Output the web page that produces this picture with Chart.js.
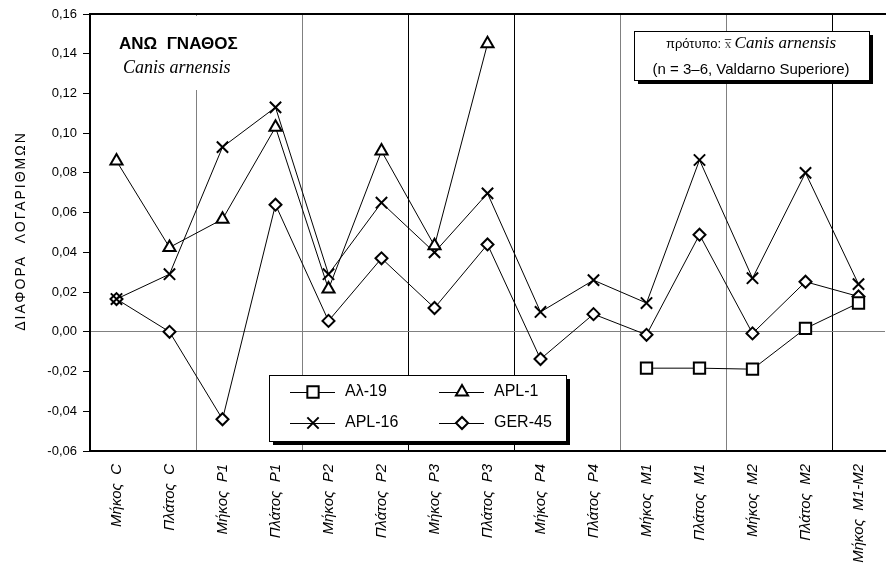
<!DOCTYPE html>
<html>
<head>
<meta charset="utf-8">
<script src="https://cdn.jsdelivr.net/npm/chart.js@4"></script>
<style>
  html, body { margin: 0; padding: 0; background: #fff; }
  #wrap { width: 886px; height: 564px; }
</style>
</head>
<body>
<div id="wrap"><canvas id="chart" width="886" height="564"></canvas></div>
<script>
// Categories (upper jaw measurements)
const categories = ['Μήκος  C', 'Πλάτος  C', 'Μήκος  P1', 'Πλάτος  P1', 'Μήκος  P2', 'Πλάτος  P2',
    'Μήκος  P3', 'Πλάτος  P3', 'Μήκος  P4', 'Πλάτος  P4', 'Μήκος  M1', 'Πλάτος  M1',
    'Μήκος  M2', 'Πλάτος  M2', 'Μήκος  M1-M2'];

// Log-difference values
const al19  = [null, null, null, null, null, null, null, null, null, null, -0.0183, -0.0183, -0.0188, 0.0017, 0.0145];
const apl1  = [0.086, 0.0425, 0.0567, 0.103, 0.0215, 0.091, 0.0433, 0.145, null, null, null, null, null, null, null];
const apl16 = [0.0165, 0.029, 0.093, 0.113, 0.029, 0.065, 0.040, 0.0697, 0.010, 0.026, 0.0145, 0.0865, 0.027, 0.080, 0.024];
const ger45 = [0.0165, 0.000, -0.044, 0.064, 0.0055, 0.037, 0.012, 0.044, -0.0137, 0.0089, -0.0015, 0.0489, -0.0008, 0.0252, 0.0178];

const seriesNames = ['Αλ-19', 'APL-1', 'APL-16', 'GER-45'];
const yMin = -0.06, yMax = 0.16, yStep = 0.02;
const yTitle = 'ΔΙΑΦΟΡΑ  ΛΟΓΑΡΙΘΜΩΝ';

const FONT = "'Liberation Sans', Arial, sans-serif";
const SERIF = "'Liberation Serif', 'Times New Roman', serif";

const makeSet = (label, data, style, radius) => ({
    label: label,
    data: data,
    borderColor: '#000',
    borderWidth: 1,
    pointStyle: style,
    pointRadius: radius,
    pointBorderWidth: 2,
    pointBorderColor: '#000',
    pointBackgroundColor: '#fff',
    tension: 0,
    spanGaps: false
});

const datasets = [
    makeSet(seriesNames[0], al19, 'rect', 8),
    makeSet(seriesNames[1], apl1, 'triangle', 7),
    makeSet(seriesNames[2], apl16, 'crossRot', 8),
    makeSet(seriesNames[3], ger45, 'rectRot', 6)
];

// draw a marker in the legend the same way the chart does
const drawMarker = (ctx, ds, x, y) => {
    ctx.save();
    ctx.strokeStyle = '#000';
    ctx.fillStyle = '#fff';
    ctx.lineWidth = 2;
    Chart.helpers.drawPoint(ctx, { pointStyle: ds.pointStyle, radius: ds.pointRadius, rotation: 0, borderWidth: 2 }, x, y);
    ctx.restore();
};

const shadowBox = (ctx, x, y, w, h, off) => {
    ctx.fillStyle = '#000';
    ctx.fillRect(x + off, y + off, w, h);
    ctx.fillStyle = '#fff';
    ctx.fillRect(x, y, w, h);
    ctx.strokeStyle = '#000';
    ctx.lineWidth = 1;
    ctx.strokeRect(x + 0.5, y + 0.5, w, h);
};

const decorations = {
    id: 'decorations',
    afterDraw(chart) {
        const ctx = chart.ctx;
        const area = chart.chartArea;
        ctx.save();

        // top frame line
        ctx.strokeStyle = '#000';
        ctx.lineWidth = 2;
        ctx.beginPath();
        ctx.moveTo(area.left, area.top);
        ctx.lineTo(area.right + 1, area.top);
        ctx.stroke();

        // y axis title, spaced out
        ctx.save();
        ctx.translate(21, 231);
        ctx.rotate(-Math.PI / 2);
        ctx.fillStyle = '#000';
        ctx.font = '14px ' + FONT;
        ctx.letterSpacing = '2px';
        ctx.textAlign = 'center';
        ctx.textBaseline = 'middle';
        ctx.fillText(yTitle, 0, 0);
        ctx.restore();

        // title block (white, no border)
        ctx.fillStyle = '#fff';
        ctx.fillRect(96, 16, 164, 74);
        ctx.fillStyle = '#000';
        ctx.textBaseline = 'middle';
        ctx.textAlign = 'left';
        ctx.font = 'bold 17px ' + FONT;
        ctx.fillText('ΑΝΩ  ΓΝΑΘΟΣ', 119, 44);
        ctx.font = 'italic 18px ' + SERIF;
        ctx.fillText('Canis arnensis', 123, 68);

        // reference box, top right
        shadowBox(ctx, 634, 31, 235, 49, 4);
        ctx.fillStyle = '#000';
        const p1 = 'πρότυπο: ';
        ctx.font = '13px ' + FONT;
        const w1 = ctx.measureText(p1).width;
        ctx.font = '13px ' + SERIF;
        const w2 = ctx.measureText('x ').width;
        ctx.font = 'italic 17px ' + SERIF;
        const w3 = ctx.measureText('Canis arnensis').width;
        let sx = 751 - (w1 + w2 + w3) / 2;
        ctx.font = '13px ' + FONT;
        ctx.fillText(p1, sx, 44);
        sx += w1;
        ctx.font = '13px ' + SERIF;
        ctx.fillStyle = '#444';
        ctx.fillText('x', sx, 45);
        const xw = ctx.measureText('x').width;
        ctx.strokeStyle = '#444';
        ctx.lineWidth = 1;
        ctx.beginPath();
        ctx.moveTo(sx, 39.5);
        ctx.lineTo(sx + xw, 39.5);
        ctx.stroke();
        ctx.fillStyle = '#000';
        sx += w2;
        ctx.font = 'italic 17px ' + SERIF;
        ctx.fillText('Canis arnensis', sx, 44);
        ctx.textAlign = 'center';
        ctx.font = '15px ' + FONT;
        ctx.fillText('(n = 3–6, Valdarno Superiore)', 751, 70);

        // legend box
        shadowBox(ctx, 269, 375, 297, 66, 4);
        const cols = [[290, 335, 313, 345], [439, 484, 462, 494]];
        const rows = [392, 423];
        const ds = chart.data.datasets;
        ctx.textAlign = 'left';
        ctx.font = '16px ' + FONT;
        ds.forEach((d, i) => {
            const c = cols[i % 2];
            const y = rows[Math.floor(i / 2)];
            ctx.strokeStyle = '#000';
            ctx.lineWidth = 1;
            ctx.beginPath();
            ctx.moveTo(c[0], y + 0.5);
            ctx.lineTo(c[1], y + 0.5);
            ctx.stroke();
            drawMarker(ctx, d, c[2], y);
            ctx.fillStyle = '#000';
            ctx.fillText(d.label, c[3], y);
        });

        ctx.restore();
    }
};

const gridColors = { 2: '#808080', 4: '#808080', 6: '#000', 8: '#000', 10: '#808080', 12: '#808080', 14: '#000' };

new Chart(document.getElementById('chart'), {
    type: 'line',
    data: { labels: categories, datasets: datasets },
    options: {
        responsive: false,
        animation: false,
        devicePixelRatio: 1,
        layout: { autoPadding: false, padding: { top: 14, right: 1, left: 0, bottom: 0 } },
        plugins: {
            legend: { display: false },
            tooltip: { enabled: false }
        },
        scales: {
            x: {
                type: 'category',
                offset: true,
                grid: {
                    offset: true,
                    drawTicks: false,
                    lineWidth: 1,
                    color: (c) => gridColors[c.index] || 'rgba(0,0,0,0)'
                },
                border: { display: true, color: '#000', width: 2 },
                ticks: {
                    autoSkip: false,
                    minRotation: 90,
                    maxRotation: 90,
                    padding: 13,
                    color: '#000',
                    font: { family: FONT, size: 15, style: 'italic' }
                },
                afterFit: (s) => { s.height = 113; s.paddingLeft = 0; s.paddingRight = 0; }
            },
            y: {
                min: yMin,
                max: yMax,
                grid: {
                    color: (c) => (c.tick && Math.abs(c.tick.value) < 1e-9) ? '#808080' : 'rgba(0,0,0,0)',
                    tickColor: '#000',
                    tickLength: 7,
                    lineWidth: 1
                },
                border: { display: true, color: '#000', width: 2 },
                ticks: {
                    stepSize: yStep,
                    padding: 6,
                    color: '#000',
                    font: { family: FONT, size: 13 },
                    callback: (v) => v.toFixed(2).replace('.', ',').replace('-0,00', '0,00')
                },
                afterFit: (s) => { s.width = 90; }
            }
        }
    },
    plugins: [decorations]
});
</script>
</body>
</html>
